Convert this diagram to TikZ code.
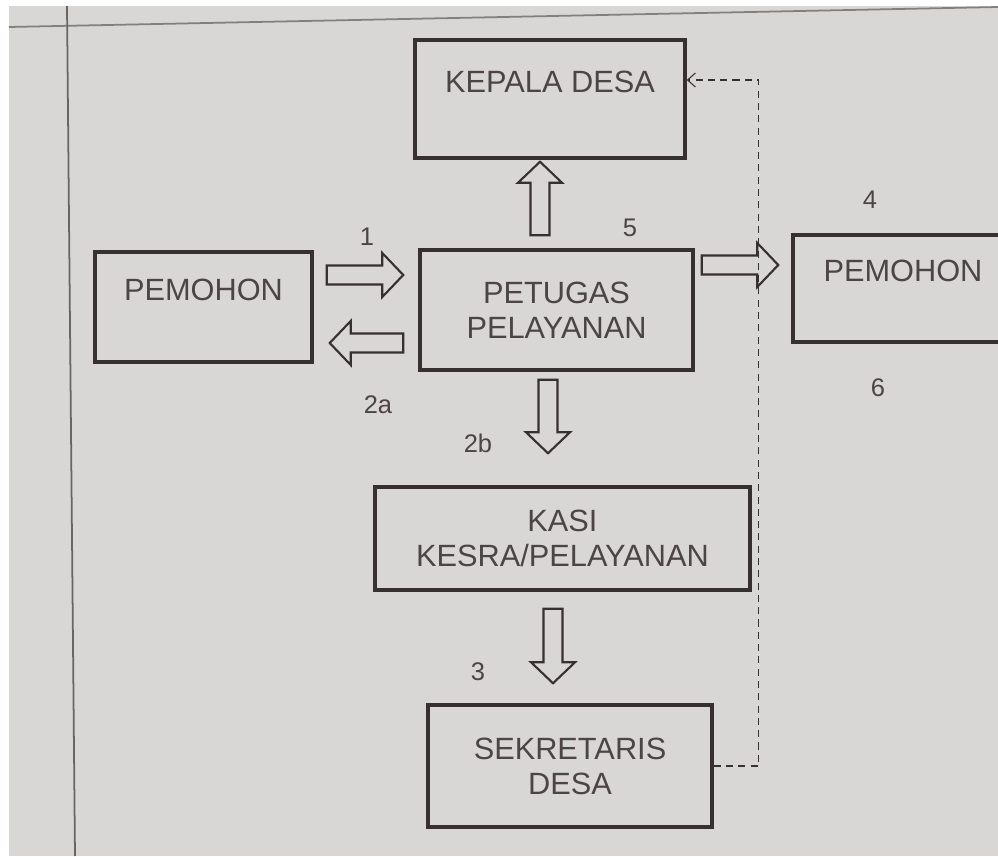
\documentclass[tikz,border=0pt]{standalone}
\usepackage{fontspec}
\setmainfont{Liberation Sans}
\usetikzlibrary{arrows.meta,calc}
\definecolor{paper}{RGB}{217,215,213}
\definecolor{ink}{RGB}{55,48,48}

\begin{document}
\begin{tikzpicture}[x=0.02cm,y=0.02cm,
	box/.style={draw=ink, line width=2pt, inner sep=0pt, align=center, text=ink!90, font=\fontsize{17.5}{20}\selectfont},
	num/.style={text=ink!90, font=\fontsize{14.5}{16}\selectfont},
	gapa/.store in=\gapa, gapb/.store in=\gapb, gapa=0pt, gapb=0pt,
	blockarrow/.style={draw=ink, line width=1.2pt, fill=paper, line join=miter,
		to path={($(\tikztostart)!\gapa!(\tikztotarget)$) coordinate (ba s)
			($(\tikztotarget)!\gapb!(\tikztostart)$) coordinate (ba e)
			($(ba e)!0.42cm!(ba s)$) coordinate (ba h)
			($(ba s)!0.19cm!90:(ba e)$) -- ($(ba h)!0.19cm!90:(ba e)$) -- ($(ba h)!0.44cm!90:(ba e)$) -- (ba e)
			-- ($(ba h)!0.44cm!-90:(ba e)$) -- ($(ba h)!0.19cm!-90:(ba e)$) -- ($(ba s)!0.19cm!-90:(ba e)$) -- cycle}},
	dashlink/.style={draw=ink, line width=0.6pt, dash pattern=on 4pt off 3pt, -{Straight Barb[length=4.5pt,width=8pt]}}]
			\fill[white] (0,0) rectangle (998,856);
			\fill[paper] (9,0) rectangle (998,850);
			\clip (0,0) rectangle (998,856);
			\draw[gray, line width=1pt] (9,829) -- (998,849);
			\draw[gray!80!black, line width=1pt] (67,850) -- (75,0);
			% boxes
			\node[box, minimum width=5.4cm, minimum height=2.36cm] (kepala) at (550,757) {KEPALA DESA\\\phantom{X}};
			\node[box, minimum width=4.34cm, minimum height=2.2cm] (pemohonL) at (203.5,549) {PEMOHON\\\phantom{X}};
			\node[box, minimum width=5.46cm, minimum height=2.4cm] (petugas) at (556.5,546) {PETUGAS\\PELAYANAN};
			\node[box, minimum width=4.4cm, minimum height=2.14cm] (pemohonR) at (903,567.5) {PEMOHON\\\phantom{X}};
			\node[box, minimum width=7.5cm, minimum height=2.06cm] (kasi) at (562.5,317.5) {KASI\\KESRA/PELAYANAN};
			\node[box, minimum width=5.68cm, minimum height=2.44cm] (sekretaris) at (570,90) {SEKRETARIS\\DESA};
			% step numbers
			\node[num] (n1) at (367,619) {1};
			\node[num] (n5) at (630,628) {5};
			\node[num] (n2a) at (378,451) {2a};
			\node[num] (n2b) at (478,413) {2b};
			\node[num] (n4) at (870,656) {4};
			\node[num] (n6) at (878,468) {6};
			\node[num] (n3) at (478,184) {3};
			% arrows
			\draw[blockarrow, gapa=0.26cm, gapb=0.04cm] ([xshift=-0.33cm]petugas.north) to ([xshift=-0.2cm]kepala.south);
			\draw[blockarrow, gapa=0.26cm, gapb=0.3cm] ([yshift=0.64cm]pemohonL.east) to ([yshift=0.7cm]petugas.west);
			\draw[blockarrow, gapa=0.3cm, gapb=0.32cm] ([yshift=-0.66cm]petugas.west) to ([yshift=-0.72cm]pemohonL.east);
			\draw[blockarrow, gapa=0.14cm, gapb=0.26cm] ([yshift=0.9cm]petugas.east) to ([yshift=0.47cm]pemohonR.west);
			\draw[blockarrow, gapa=0.16cm, gapb=0.64cm] ([xshift=-0.17cm]petugas.south) to ([xshift=-0.29cm]kasi.north);
			\draw[blockarrow, gapa=0.34cm, gapb=0.4cm] ([xshift=-0.19cm]kasi.south) to ([xshift=-0.34cm]sekretaris.north);
			\draw[dashlink] (sekretaris.east) -- ++(45,0) |- ([yshift=0.38cm]kepala.east);
		\end{tikzpicture}
\end{document}
